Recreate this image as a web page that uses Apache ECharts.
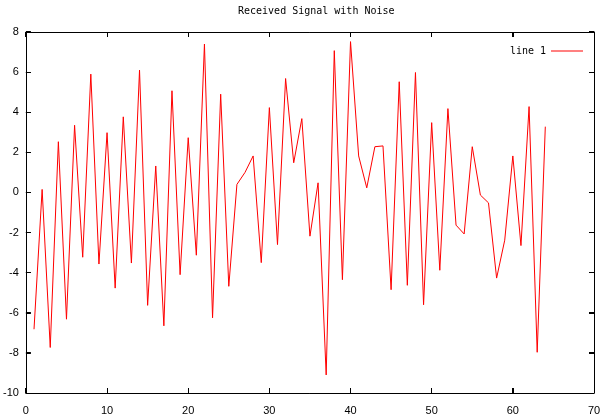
<!DOCTYPE html>
<html>
<head>
<meta charset="utf-8">
<script src="https://cdn.jsdelivr.net/npm/echarts@6/dist/echarts.min.js"></script>
<style>html,body{margin:0;padding:0;background:#fff}#c{width:604px;height:416px}</style>
</head>
<body>
<div id="c"></div>
<script>
var titleText = 'Received Signal with Noise';
var seriesName = 'line 1';
var xValues = [1,2,3,4,5,6,7,8,9,10,11,12,13,14,15,16,17,18,19,20,21,22,23,24,25,26,27,28,29,30,31,32,33,34,35,36,37,38,39,40,41,42,43,44,45,46,47,48,49,50,51,52,53,54,55,56,57,58,59,60,61,62,63,64];
var yValues = [-6.82,0.15,-7.73,2.53,-6.32,3.35,-3.23,5.9,-3.57,2.98,-4.77,3.77,-3.52,6.1,-5.63,1.32,-6.65,5.07,-4.1,2.73,-3.13,7.4,
  -6.25,4.9,-4.68,0.4,1.0,1.82,-3.5,4.23,-2.6,5.68,1.48,3.68,-2.18,0.48,-9.1,7.07,-4.35,7.52,1.82,0.23,2.28,2.32,-4.85,5.52,
  -4.63,5.98,-5.6,3.48,-3.88,4.18,-1.63,-2.07,2.28,-0.13,-0.52,-4.27,-2.38,1.82,-2.65,4.28,-7.97,3.28];
var xTicks = {min:0, max:70, interval:10};
var yTicks = {min:-10, max:8, interval:2};
var xTickValues = [0,10,20,30,40,50,60,70];
var yTickValues = [-10,-8,-6,-4,-2,0,2,4,6,8];

var pts = xValues.map(function(x,i){return [x, yValues[i]];});
var chart = echarts.init(document.getElementById('c'), null, {renderer:'canvas'});
var lblFont = {color:'#000', fontFamily:'Liberation Sans', fontSize:11};
function axLine(){ return {show:true, onZero:false, lineStyle:{color:'#000', width:1}}; }
function tick(){ return {show:true, inside:true, length:5, lineStyle:{color:'#000', width:1}}; }
var TL = 5;
function crisp(v){ return Math.round(v - 0.5) + 0.5; }
chart.setOption({
  animation:false,
  backgroundColor:'#fff',
  title:{text:titleText, left:233, top:1,
    textStyle:{fontFamily:'DejaVu Sans Mono', fontSize:10, fontWeight:'normal', color:'#000'}},
  legend:{data:[seriesName], right:16, top:41, align:'right', icon:'rect', itemWidth:32, itemHeight:1, itemGap:6,
    textStyle:{fontFamily:'DejaVu Sans Mono', fontSize:10, color:'#000'}},
  grid:{left:25, right:10, top:32, bottom:23, containLabel:false},
  xAxis:[
    {type:'value', min:xTicks.min, max:xTicks.max, interval:xTicks.interval, position:'bottom', gridIndex:0,
     axisLine:axLine(), axisTick:tick(), axisLabel:Object.assign({show:true, margin:12}, lblFont), splitLine:{show:false}},
    {type:'value', min:xTicks.min, max:xTicks.max, interval:xTicks.interval, position:'top', gridIndex:0,
     axisLine:axLine(), axisTick:tick(), axisLabel:{show:false}, splitLine:{show:false}}
  ],
  yAxis:[
    {type:'value', min:yTicks.min, max:yTicks.max, interval:yTicks.interval, position:'left', gridIndex:0,
     axisLine:axLine(), axisTick:tick(), axisLabel:Object.assign({show:true, margin:7}, lblFont), splitLine:{show:false}},
    {type:'value', min:yTicks.min, max:yTicks.max, interval:yTicks.interval, position:'right', gridIndex:0,
     axisLine:axLine(), axisTick:tick(), axisLabel:{show:false}, splitLine:{show:false}}
  ],
  series:[
    {name:seriesName, type:'line', data:pts, xAxisIndex:0, yAxisIndex:0,
     showSymbol:false, symbol:'none', lineStyle:{color:'#ff0000', width:1}, itemStyle:{color:'#ff0000'}},
    {name:'mirror', type:'line', data:[[xTicks.min, yTicks.min]], xAxisIndex:1, yAxisIndex:1,
     showSymbol:false, symbol:'none', silent:true, lineStyle:{opacity:0}, itemStyle:{opacity:0}},
    {name:'xticks', type:'custom', xAxisIndex:0, yAxisIndex:0, silent:true, clip:false,
     data:xTickValues.map(function(v){return [v, yTicks.min];}),
     renderItem:function(params, api){
       var b = api.coord([api.value(0), yTicks.min]);
       var t = api.coord([api.value(0), yTicks.max]);
       var x = crisp(b[0]);
       return {type:'group', children:[
         {type:'line', shape:{x1:x, y1:b[1], x2:x, y2:b[1]-TL}, style:{stroke:'#000', lineWidth:1}},
         {type:'line', shape:{x1:x, y1:t[1], x2:x, y2:t[1]+TL}, style:{stroke:'#000', lineWidth:1}}
       ]};
     }},
    {name:'yticks', type:'custom', xAxisIndex:0, yAxisIndex:0, silent:true, clip:false,
     data:yTickValues.map(function(v){return [xTicks.min, v];}),
     renderItem:function(params, api){
       var l = api.coord([xTicks.min, api.value(1)]);
       var r = api.coord([xTicks.max, api.value(1)]);
       var y = crisp(l[1]);
       return {type:'group', children:[
         {type:'line', shape:{x1:l[0], y1:y, x2:l[0]+TL, y2:y}, style:{stroke:'#000', lineWidth:1}},
         {type:'line', shape:{x1:r[0], y1:y, x2:r[0]-TL, y2:y}, style:{stroke:'#000', lineWidth:1}}
       ]};
     }}
  ]
});
</script>
</body>
</html>
